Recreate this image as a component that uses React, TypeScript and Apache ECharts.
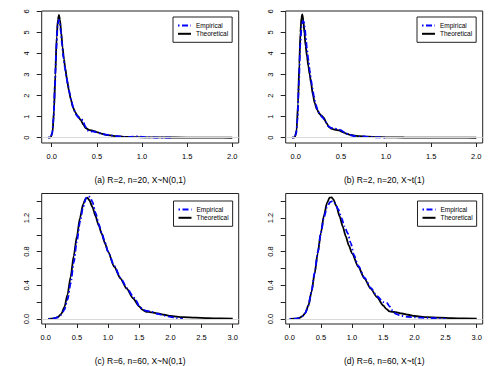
import React, { useEffect, useRef } from 'react';
import * as echarts from 'echarts';

// ---------- text ----------
const captions = [
  '(a) R=2, n=20, X~N(0,1)',
  '(b) R=2, n=20, X~t(1)',
  '(c) R=6, n=60, X~N(0,1)',
  '(d) R=6, n=60, X~t(1)',
];
const nameEmp = 'Empirical';
const nameTheo = 'Theoretical';

// ---------- tick values ----------
const xTicksTop = [0, 0.5, 1, 1.5, 2];
const yTicksTop = [0, 1, 2, 3, 4, 5, 6];
const xTicksBottom = [0, 0.5, 1, 1.5, 2, 2.5, 3];
const yTicksBottom = [0, 0.2, 0.4, 0.6, 0.8, 1.0, 1.2, 1.4];
const yLabelsBottom = [0, 0.4, 0.8, 1.2];

// ---------- (a) R=2, n=20, X~N(0,1) ----------
const aTheoX = [-0.04, -0.01, 0.01, 0.025, 0.04, 0.055, 0.068, 0.08, 0.092, 0.105, 0.12, 0.135, 0.15, 0.17, 0.19, 0.21, 0.235, 0.26, 0.29, 0.32, 0.35, 0.38, 0.42, 0.46, 0.5, 0.55, 0.6, 0.7, 0.8, 0.9, 1.0, 1.2, 1.5, 1.8, 2.0];
const aTheoY = [0, 0.02, 0.3, 1.3, 3.0, 4.8, 5.6, 5.83, 5.6, 5.0, 4.3, 3.75, 3.3, 2.75, 2.25, 1.85, 1.45, 1.2, 1.02, 0.85, 0.62, 0.45, 0.36, 0.33, 0.27, 0.2, 0.14, 0.08, 0.04, 0.03, 0.02, 0.015, 0.008, 0.004, 0];
const aEmpX = [-0.04, -0.015, 0.005, 0.02, 0.035, 0.05, 0.065, 0.078, 0.09, 0.102, 0.115, 0.13, 0.145, 0.16, 0.18, 0.2, 0.22, 0.245, 0.27, 0.3, 0.325, 0.345, 0.37, 0.395, 0.42, 0.45, 0.48, 0.52, 0.56, 0.6, 0.65, 0.7, 0.75, 0.8, 0.85, 0.9, 0.95, 1.0, 1.05, 1.15, 1.25, 1.35];
const aEmpY = [0, 0.02, 0.2, 0.9, 2.4, 4.2, 5.3, 5.6, 5.45, 5.0, 4.4, 3.8, 3.35, 2.95, 2.5, 2.1, 1.7, 1.35, 1.1, 0.95, 0.92, 0.82, 0.55, 0.35, 0.28, 0.3, 0.28, 0.22, 0.18, 0.15, 0.12, 0.08, 0.06, 0.03, 0.03, 0.05, 0.06, 0.04, 0.02, 0.01, 0.01, 0];

// ---------- (b) R=2, n=20, X~t(1) ----------
const bTheoX = [-0.04, -0.01, 0.01, 0.025, 0.04, 0.052, 0.063, 0.073, 0.085, 0.097, 0.11, 0.125, 0.14, 0.155, 0.17, 0.19, 0.21, 0.235, 0.26, 0.285, 0.31, 0.34, 0.37, 0.4, 0.44, 0.48, 0.52, 0.56, 0.6, 0.65, 0.7, 0.8, 0.9, 1.0, 1.2, 1.5, 1.8, 2.0];
const bTheoY = [0, 0.02, 0.35, 1.6, 3.5, 5.0, 5.7, 5.86, 5.55, 4.95, 4.35, 3.85, 3.4, 3.0, 2.6, 2.05, 1.65, 1.35, 1.15, 1.05, 0.95, 0.7, 0.5, 0.42, 0.38, 0.35, 0.27, 0.2, 0.14, 0.1, 0.07, 0.05, 0.03, 0.02, 0.012, 0.008, 0.004, 0];
const bEmpX = [-0.04, -0.015, 0.005, 0.02, 0.035, 0.05, 0.065, 0.078, 0.09, 0.1, 0.112, 0.125, 0.14, 0.155, 0.17, 0.185, 0.2, 0.22, 0.245, 0.27, 0.3, 0.33, 0.36, 0.39, 0.42, 0.46, 0.5, 0.55, 0.6, 0.65, 0.7, 0.75, 0.8, 0.9, 1.0];
const bEmpY = [0, 0.02, 0.2, 0.9, 2.6, 4.4, 5.3, 5.55, 5.5, 5.25, 4.75, 4.2, 3.7, 3.2, 2.75, 2.35, 2.0, 1.6, 1.3, 1.1, 0.95, 0.75, 0.55, 0.47, 0.45, 0.42, 0.36, 0.22, 0.13, 0.08, 0.05, 0.06, 0.04, 0.02, 0];

// ---------- (c) R=6, n=60, X~N(0,1) ----------
const cTheoX = [0.04, 0.1, 0.15, 0.2, 0.25, 0.3, 0.35, 0.4, 0.45, 0.5, 0.55, 0.6, 0.64, 0.67, 0.7, 0.75, 0.8, 0.85, 0.9, 0.95, 1.0, 1.1, 1.2, 1.3, 1.4, 1.5, 1.55, 1.6, 1.65, 1.7, 1.8, 1.9, 2.0, 2.2, 2.4, 2.6, 2.8, 3.0];
const cTheoY = [0, 0.003, 0.01, 0.025, 0.06, 0.14, 0.29, 0.5, 0.75, 0.98, 1.2, 1.36, 1.43, 1.44, 1.41, 1.33, 1.22, 1.11, 1.01, 0.9, 0.8, 0.62, 0.48, 0.36, 0.245, 0.15, 0.11, 0.088, 0.083, 0.078, 0.065, 0.05, 0.035, 0.022, 0.015, 0.01, 0.006, 0.004];
const cEmpX = [0.05, 0.1, 0.15, 0.2, 0.25, 0.3, 0.35, 0.4, 0.45, 0.5, 0.55, 0.6, 0.65, 0.68, 0.71, 0.75, 0.8, 0.85, 0.9, 0.95, 1.0, 1.1, 1.2, 1.3, 1.4, 1.45, 1.5, 1.55, 1.6, 1.7, 1.8, 1.9, 2.0, 2.1, 2.2];
const cEmpY = [0, 0.003, 0.01, 0.02, 0.05, 0.11, 0.23, 0.42, 0.67, 0.92, 1.15, 1.33, 1.44, 1.46, 1.45, 1.39, 1.26, 1.13, 1.02, 0.91, 0.8, 0.63, 0.49, 0.37, 0.27, 0.22, 0.15, 0.12, 0.1, 0.085, 0.06, 0.04, 0.025, 0.01, 0];

// ---------- (d) R=6, n=60, X~t(1) ----------
const dTheoX = [0.0, 0.1, 0.15, 0.2, 0.25, 0.3, 0.35, 0.4, 0.45, 0.5, 0.55, 0.6, 0.64, 0.67, 0.7, 0.75, 0.8, 0.85, 0.9, 0.95, 1.0, 1.1, 1.2, 1.3, 1.4, 1.5, 1.55, 1.6, 1.65, 1.7, 1.8, 1.9, 2.0, 2.2, 2.4, 2.6, 2.8, 3.0];
const dTheoY = [0, 0.003, 0.01, 0.03, 0.07, 0.16, 0.32, 0.54, 0.78, 1.02, 1.23, 1.38, 1.44, 1.445, 1.42, 1.34, 1.22, 1.1, 0.98, 0.87, 0.78, 0.62, 0.48, 0.36, 0.26, 0.16, 0.12, 0.09, 0.085, 0.08, 0.065, 0.05, 0.035, 0.022, 0.015, 0.01, 0.006, 0.004];
const dEmpX = [0.0, 0.1, 0.15, 0.2, 0.25, 0.3, 0.35, 0.4, 0.45, 0.5, 0.55, 0.6, 0.65, 0.69, 0.73, 0.78, 0.83, 0.88, 0.93, 0.98, 1.03, 1.1, 1.2, 1.3, 1.4, 1.5, 1.56, 1.6, 1.65, 1.7, 1.8, 1.9, 2.0, 2.1, 2.3, 2.5];
const dEmpY = [0, 0.003, 0.01, 0.03, 0.07, 0.16, 0.33, 0.55, 0.79, 1.02, 1.21, 1.33, 1.39, 1.4, 1.37, 1.3, 1.2, 1.1, 1.02, 0.9, 0.76, 0.63, 0.49, 0.37, 0.27, 0.2, 0.19, 0.15, 0.1, 0.06, 0.035, 0.025, 0.02, 0.015, 0.01, 0];

const zip = (xs: number[], ys: number[]) => xs.map((x, i) => [x, ys[i]]);

const FONT = 'Liberation Sans, Arial, sans-serif';
const AXIS_COLOR = '#222';

function buildOption() {
  const panels = [
    { left: 41.7, top: 11, xr: [-0.111, 2.071], yr: [-0.25, 6.02], xt: xTicksTop, yt: yTicksTop, yl: yTicksTop, yfmt: (v: number) => String(v), theo: zip(aTheoX, aTheoY), emp: zip(aEmpX, aEmpY), lg: [173, 17] },
    { left: 285.7, top: 11, xr: [-0.111, 2.071], yr: [-0.25, 6.02], xt: xTicksTop, yt: yTicksTop, yl: yTicksTop, yfmt: (v: number) => String(v), theo: zip(bTheoX, bTheoY), emp: zip(bEmpX, bEmpY), lg: [417, 17] },
    { left: 41.7, top: 193.5, xr: [-0.064, 3.096], yr: [-0.06, 1.49], xt: xTicksBottom, yt: yTicksBottom, yl: yLabelsBottom, yfmt: (v: number) => v.toFixed(1), theo: zip(cTheoX, cTheoY), emp: zip(cEmpX, cEmpY), lg: [173.5, 201] },
    { left: 285.7, top: 193.5, xr: [-0.064, 3.096], yr: [-0.06, 1.49], xt: xTicksBottom, yt: yTicksBottom, yl: yLabelsBottom, yfmt: (v: number) => v.toFixed(1), theo: zip(dTheoX, dTheoY), emp: zip(dEmpX, dEmpY), lg: [417.5, 201] },
  ];

  const grid: any[] = [];
  const xAxis: any[] = [];
  const yAxis: any[] = [];
  const series: any[] = [];
  const legend: any[] = [];

  panels.forEach((p, i) => {
    grid.push({
      left: p.left, top: p.top, width: 197, height: 132,
      show: true, borderColor: AXIS_COLOR, borderWidth: 1, backgroundColor: 'transparent',
    });
    xAxis.push({
      type: 'value', gridIndex: i, min: p.xr[0], max: p.xr[1],
      axisLine: { show: false, onZero: false },
      axisTick: { show: true, length: 4, lineStyle: { color: AXIS_COLOR, width: 1 }, customValues: p.xt },
      axisLabel: { customValues: p.xt, formatter: (v: number) => v.toFixed(1), fontSize: 7.5, color: '#000', fontFamily: FONT, margin: 9 },
      splitLine: { show: false },
      name: captions[i], nameLocation: 'middle', nameGap: 32,
      nameTextStyle: { fontSize: 8.5, color: '#000', fontFamily: FONT },
    });
    yAxis.push({
      type: 'value', gridIndex: i, min: p.yr[0], max: p.yr[1],
      axisLine: { show: false, onZero: false },
      axisTick: { show: true, length: 5, lineStyle: { color: AXIS_COLOR, width: 1 }, customValues: p.yt },
      axisLabel: { customValues: p.yl, formatter: p.yfmt, rotate: 90, fontSize: 7.5, color: '#000', fontFamily: FONT, margin: 11 },
      splitLine: { show: false },
    });
    series.push({
      name: nameTheo, type: 'line', xAxisIndex: i, yAxisIndex: i,
      data: p.theo, showSymbol: false, symbol: 'none', smooth: 0.25, smoothMonotone: 'x',
      lineStyle: { color: '#000', width: 1.8 }, itemStyle: { color: '#000' },
      markLine: {
        silent: true, symbol: ['none', 'none'], label: { show: false },
        lineStyle: { color: '#d9d9d9', type: 'solid', width: 1 },
        data: [{ yAxis: 0 }],
      },
      z: 2,
    });
    series.push({
      name: nameEmp, type: 'line', xAxisIndex: i, yAxisIndex: i,
      data: p.emp, showSymbol: false, symbol: 'none', smooth: 0.25, smoothMonotone: 'x',
      lineStyle: { color: '#0000ff', width: 1.8, type: [1.5, 2.5, 6, 2.5] }, itemStyle: { color: '#0000ff' },
      z: 3,
    });
    legend.push({
      data: [nameEmp, nameTheo], orient: 'vertical', left: p.lg[0], top: p.lg[1],
      padding: [5, 4, 5, 4], itemWidth: 13, itemHeight: 7, itemGap: 1.3,
      borderColor: AXIS_COLOR, borderWidth: 1, backgroundColor: '#fff',
      itemStyle: { opacity: 0 },
      textStyle: { fontSize: 6.5, color: '#000', fontFamily: FONT, padding: [0, 0, 0, 0] },
      selectedMode: false,
    });
  });

  return {
    animation: false,
    backgroundColor: '#fff',
    textStyle: { fontFamily: FONT },
    grid, xAxis, yAxis, series, legend,
  };
}

export default function App() {
  const ref = useRef<HTMLDivElement>(null);
  useEffect(() => {
    if (!ref.current) return;
    const chart = echarts.init(ref.current, undefined, { renderer: 'svg' });
    chart.setOption(buildOption() as any);
    return () => chart.dispose();
  }, []);
  return (
    <div
      ref={ref}
      style={{ position: 'fixed', left: 0, top: 0, width: 488, height: 366, background: '#fff' }}
    />
  );
}
